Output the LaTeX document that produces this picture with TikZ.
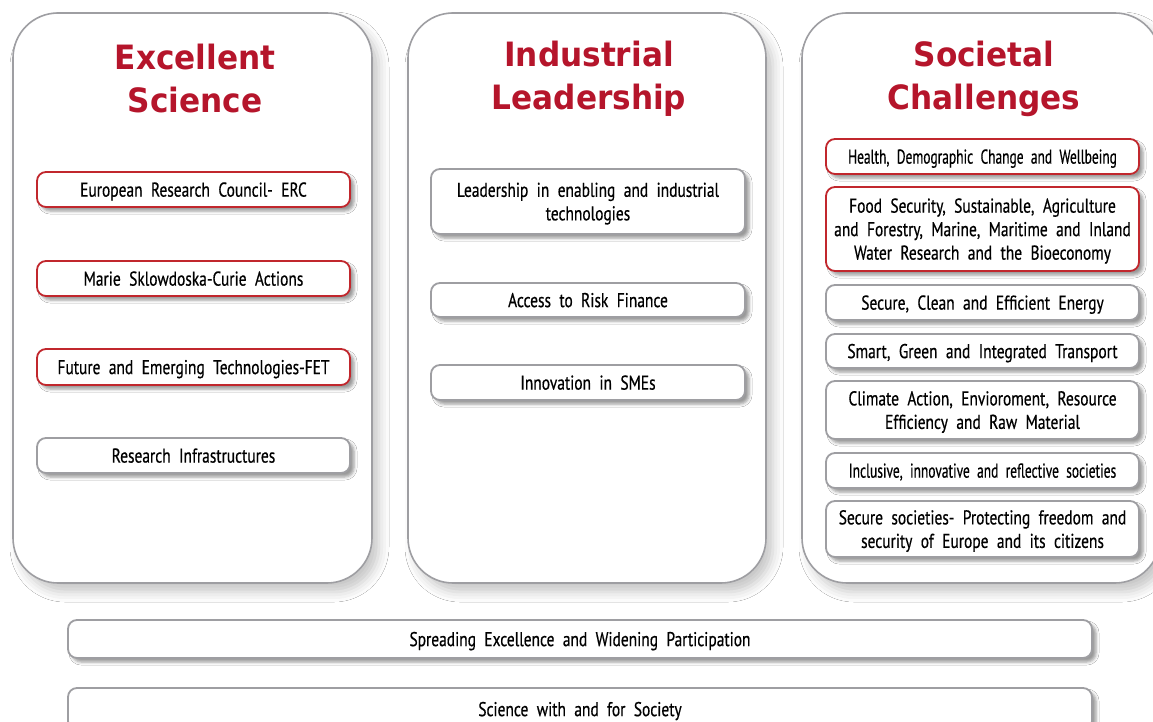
\documentclass[tikz,border=0pt]{standalone}
\usepackage{fontspec}
\setmainfont{PT Sans}[FakeStretch=0.772, FakeBold=0.5]
\newfontfamily\titlefont{DejaVu Sans}[FakeStretch=0.93]
\usetikzlibrary{shadows.blur}
\definecolor{boxgrey}{HTML}{9E9EA2}
\definecolor{boxred}{HTML}{C1272D}
\definecolor{titlered}{HTML}{B5152B}
\newcommand\itemfont{\fontsize{20}{23.5}\selectfont\spaceskip=0.42em plus 0.1em minus 0.05em\relax}
\newcommand\squeeze[1]{\scalebox{0.87}[1]{#1}}
\tikzset{
  bigbox/.style={draw=boxgrey, line width=1.6pt, rounded corners=45pt, fill=white,
    inner sep=0pt, blur shadow={shadow xshift=7pt, shadow yshift=-9pt, shadow blur radius=10pt, shadow opacity=22}},
  itembox/.style={line width=1.8pt, rounded corners=9pt, fill=white, inner sep=0pt,
    align=center, text depth=0pt, font=\itemfont,
    blur shadow={shadow xshift=4pt, shadow yshift=-4pt, shadow blur radius=3pt, shadow opacity=40}},
  redbox/.style={itembox, draw=boxred},
  greybox/.style={itembox, draw=boxgrey},
  titletext/.style={text=titlered, align=center, font=\titlefont\bfseries\fontsize{33.5}{43}\selectfont}
}
\begin{document}
\begin{tikzpicture}[x=1pt,y=-1pt]
\useasboundingbox (0,0) rectangle (1153,722);
\fill[white] (0,0) rectangle (1153,722);
% big columns
\node[bigbox, minimum width=359pt, minimum height=570pt] (es) at (192.5,298) {};
\node[bigbox, minimum width=358pt, minimum height=570pt] (il) at (587,298) {};
\node[bigbox, minimum width=358pt, minimum height=570pt] (sc) at (981,298) {};
\node[titletext] (est) at (195,79) {Excellent\\Science};
\node[titletext] (ilt) at (589,79) {Industrial\\Leadership};
\node[titletext] (sct) at (984,79) {Societal\\Challenges};
% column 1
\node[redbox, minimum width=313pt, minimum height=35pt] (erc) at (193.5,189.5) {European Research Council- ERC};
\node[redbox, minimum width=313pt, minimum height=35pt] (msca) at (193.5,278.5) {Marie Sklowdoska-Curie Actions};
\node[redbox, minimum width=313pt, minimum height=36pt] (fet) at (193.5,367) {Future and Emerging Technologies-FET};
\node[greybox, minimum width=313pt, minimum height=35pt] (ri) at (193.5,455.5) {Research Infrastructures};
% column 2
\node[greybox, minimum width=314pt, minimum height=65pt] (leit) at (588,201.5) {Leadership in enabling and industrial\\technologies};
\node[greybox, minimum width=314pt, minimum height=34pt] (arf) at (588,300) {Access to Risk Finance};
\node[greybox, minimum width=314pt, minimum height=35pt] (sme) at (588,382.5) {Innovation in SMEs};
% column 3
\node[redbox, minimum width=313pt, minimum height=35pt] (health) at (982.5,156.5) {\squeeze{Health, Demographic Change and Wellbeing}};
\node[redbox, minimum width=313pt, minimum height=84pt] (food) at (982.5,229) {Food Security, Sustainable, Agriculture\\and Forestry, Marine, Maritime and Inland\\Water Research and the Bioeconomy};
\node[greybox, minimum width=313pt, minimum height=35pt] (energy) at (982.5,302.5) {Secure, Clean and Efficient Energy};
\node[greybox, minimum width=313pt, minimum height=34pt] (transport) at (982.5,351) {Smart, Green and Integrated Transport};
\node[greybox, minimum width=313pt, minimum height=58pt] (climate) at (982.5,410) {Climate Action, Envioroment, Resource\\Efficiency and Raw Material};
\node[greybox, minimum width=313pt, minimum height=35pt] (incl) at (982.5,470.5) {\squeeze{Inclusive, innovative and reflective societies}};
\node[greybox, minimum width=313pt, minimum height=56pt] (secure) at (982.5,529) {Secure societies- Protecting freedom and\\security of Europe and its citizens};
% bottom bars
\node[greybox, minimum width=1024pt, minimum height=38pt] (spread) at (580,639) {Spreading Excellence and Widening Participation};
\node[greybox, minimum width=1024pt, minimum height=42pt] (swafs) at (580,709) {Science with and for Society};
\end{tikzpicture}
\end{document}
